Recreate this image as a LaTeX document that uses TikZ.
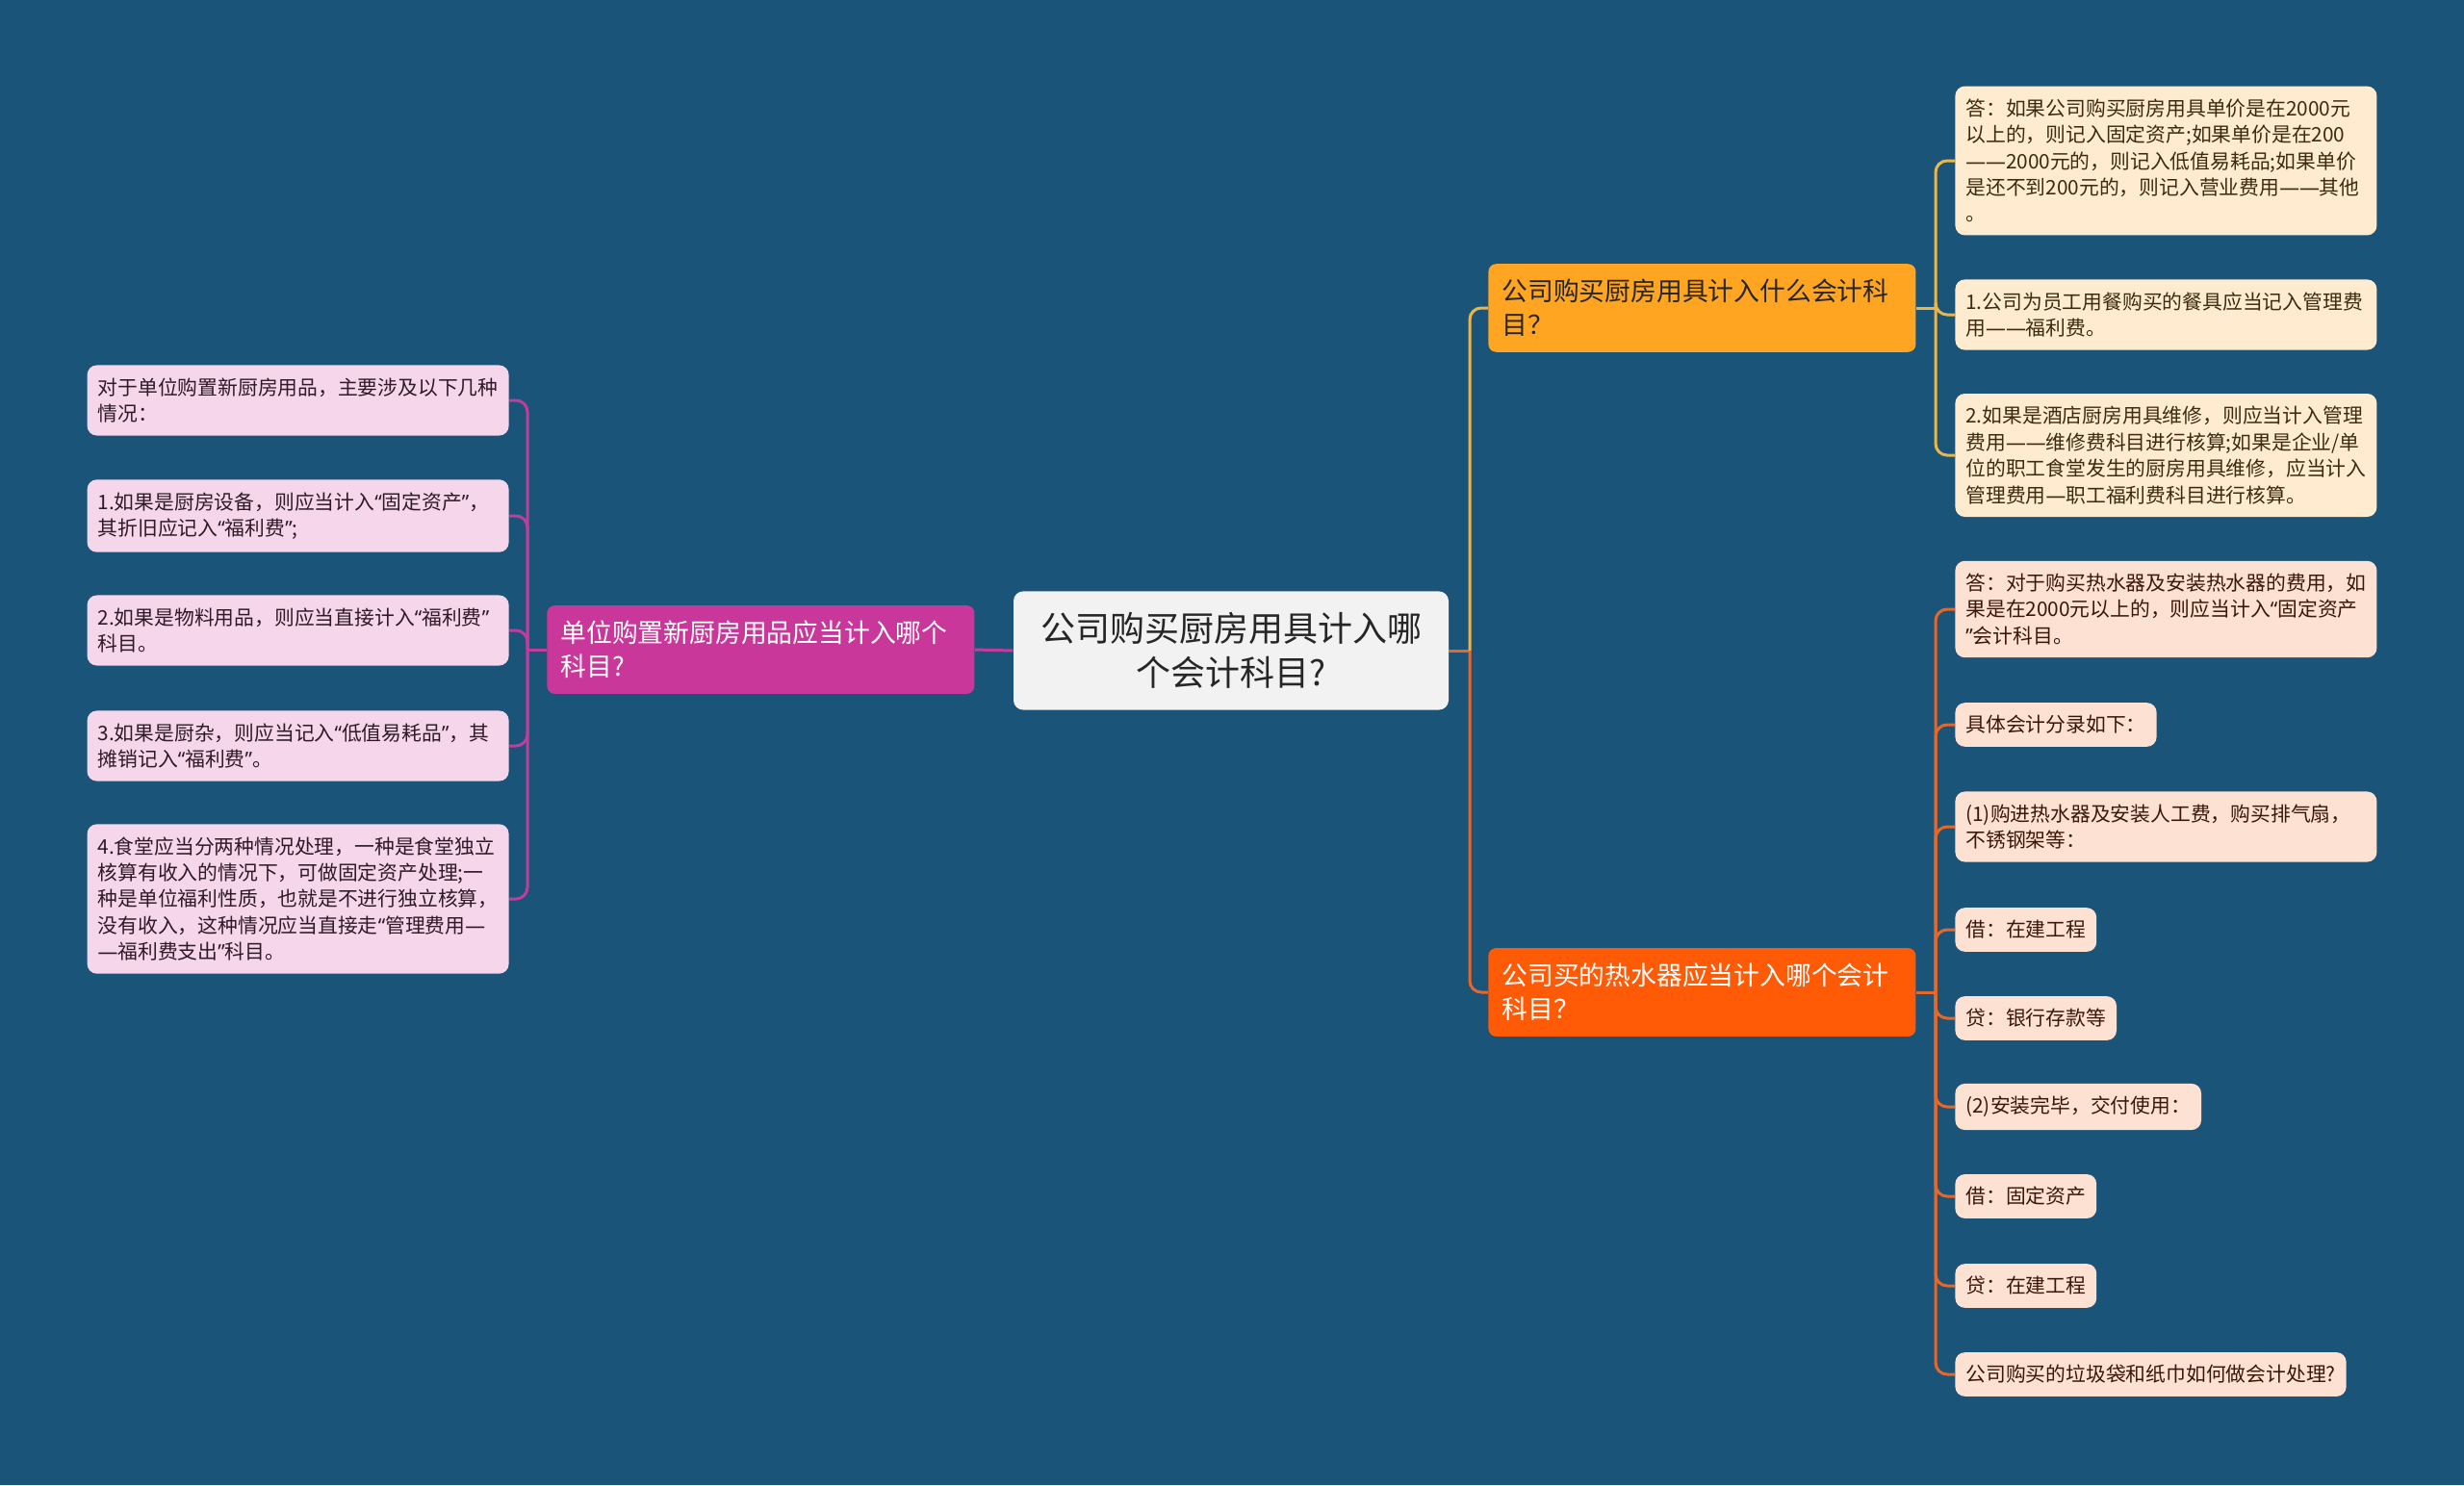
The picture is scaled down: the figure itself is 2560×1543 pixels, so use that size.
\documentclass[tikz,border=0pt]{standalone}
\usepackage{fontspec}
\setmainfont{Noto Sans CJK SC}
\newfontfamily\qtfont{Noto Sans}
\newcommand{\zhlq}{{\qtfont “}}
\newcommand{\zhrq}{{\qtfont ”}}
\newcommand{\zhdash}{{\qtfont —}}
\usepackage{xcolor}
\usepackage{tikz}
\usetikzlibrary{positioning}
\definecolor{bgblue}{HTML}{1A5479}
\definecolor{rootgray}{HTML}{F2F2F2}
\definecolor{magbranch}{HTML}{C9379A}
\definecolor{magline}{HTML}{C23C9C}
\definecolor{pinkleaf}{HTML}{F6D6EB}
\definecolor{pinktext}{HTML}{2E1A28}
\definecolor{goldbranch}{HTML}{FFA521}
\definecolor{goldline}{HTML}{E9B64B}
\definecolor{creamleaf}{HTML}{FEEBD0}
\definecolor{creamtext}{HTML}{3D2B10}
\definecolor{orgbranch}{HTML}{FF5A06}
\definecolor{orgline}{HTML}{E4672B}
\definecolor{peachleaf}{HTML}{FDE1D3}
\definecolor{peachtext}{HTML}{3A1808}
\tikzset{
    root/.style={fill=rootgray, rounded corners=5pt, align=center,
    font=\fontsize{18}{23}\selectfont, text=black!85, inner xsep=14pt, inner ysep=11pt},
    branch/.style={rounded corners=4pt, align=left, text width=208pt,
    font=\fontsize{13.4}{17.5}\selectfont, inner xsep=7pt, inner ysep=8pt},
    leaf/.style={rounded corners=5pt, align=left, anchor=west,
    font=\fontsize{10.4}{13.7}\selectfont, inner xsep=5.5pt, inner ysep=6.6pt},
    wide/.style={text width=208pt},
    conn/.style={line width=1.5pt, rounded corners=6pt},
}
\begin{document}
\begin{tikzpicture}[x=0.5pt, y=-0.5pt]
            \fill[bgblue] (0,0) rectangle (2560,1543);
            % --- centre ---
            \node[root] (root) at (1279,676) {公司购买厨房用具计入哪\\个会计科目?};
            % --- left branch ---
            \node[branch, fill=magbranch, text=white, anchor=west] (lb) at (568,675) {单位购置新厨房用品应当计入哪个\\科目?};
            \node[leaf, wide, fill=pinkleaf, text=pinktext, anchor=east] (l1) at (529,416) {对于单位购置新厨房用品，主要涉及以下几种\\情况：};
            \node[leaf, wide, fill=pinkleaf, text=pinktext, anchor=east] (l2) at (529,536) {1.如果是厨房设备，则应当计入\zhlq 固定资产\zhrq ，\\其折旧应记入\zhlq 福利费\zhrq ;};
            \node[leaf, wide, fill=pinkleaf, text=pinktext, anchor=east] (l3) at (529,655) {2.如果是物料用品，则应当直接计入\zhlq 福利费\zhrq \\科目。};
            \node[leaf, wide, fill=pinkleaf, text=pinktext, anchor=east] (l4) at (529,775) {3.如果是厨杂，则应当记入\zhlq 低值易耗品\zhrq ，其\\摊销记入\zhlq 福利费\zhrq 。};
            \node[leaf, wide, fill=pinkleaf, text=pinktext, anchor=east] (l5) at (529,934) {4.食堂应当分两种情况处理，一种是食堂独立\\核算有收入的情况下，可做固定资产处理;一\\种是单位福利性质，也就是不进行独立核算，\\没有收入，这种情况应当直接走\zhlq 管理费用\zhdash \\\zhdash 福利费支出\zhrq 科目。};
            \coordinate (ls) at (548,675);
            \draw[conn, magline] (root.west) -- (lb.east);
            \draw[conn, magline] (lb.west) -- (ls);
            \foreach \n in {l1,l2,l3,l4,l5}
                \draw[conn, magline] (ls) |- (\n.east);
            % --- right branches ---
            \node[branch, fill=goldbranch, text=black!85, anchor=west] (tb) at (1546,320) {公司购买厨房用具计入什么会计科\\目？};
            \node[branch, fill=orgbranch, text=white, anchor=west] (bb) at (1546,1031) {公司买的热水器应当计入哪个会计\\科目？};
            \coordinate (rs) at (1527,676);
            \draw[conn, orgline] (root.east) -- (rs);
            \draw[conn, goldline] (rs) |- (tb.west);
            \draw[conn, orgline] (rs) |- (bb.west);
            % --- top right leaves ---
            \node[leaf, wide, fill=creamleaf, text=creamtext] (t1) at (2031,167) {答：如果公司购买厨房用具单价是在2000元\\以上的，则记入固定资产;如果单价是在200\\\zhdash\zhdash 2000元的，则记入低值易耗品;如果单价\\是还不到200元的，则记入营业费用\zhdash\zhdash 其他\\。};
            \node[leaf, wide, fill=creamleaf, text=creamtext] (t2) at (2031,327) {1.公司为员工用餐购买的餐具应当记入管理费\\用\zhdash\zhdash 福利费。};
            \node[leaf, wide, fill=creamleaf, text=creamtext] (t3) at (2031,473) {2.如果是酒店厨房用具维修，则应当计入管理\\费用\zhdash\zhdash 维修费科目进行核算;如果是企业/单\\位的职工食堂发生的厨房用具维修，应当计入\\管理费用\zhdash 职工福利费科目进行核算。};
            \coordinate (ts) at (2011,320);
            \draw[conn, goldline] (tb.east) -- (ts);
            \foreach \n in {t1,t2,t3}
                \draw[conn, goldline] (ts) |- (\n.west);
            % --- bottom right leaves ---
            \node[leaf, wide, fill=peachleaf, text=peachtext] (b1) at (2031,633) {答：对于购买热水器及安装热水器的费用，如\\果是在2000元以上的，则应当计入\zhlq 固定资产\\\zhrq 会计科目。};
            \node[leaf, fill=peachleaf, text=peachtext] (b2) at (2031,753) {具体会计分录如下：};
            \node[leaf, wide, fill=peachleaf, text=peachtext] (b3) at (2031,859) {(1)购进热水器及安装人工费，购买排气扇，\\不锈钢架等：};
            \node[leaf, fill=peachleaf, text=peachtext] (b4) at (2031,966) {借：在建工程};
            \node[leaf, fill=peachleaf, text=peachtext] (b5) at (2031,1058) {贷：银行存款等};
            \node[leaf, fill=peachleaf, text=peachtext] (b6) at (2031,1150) {(2)安装完毕，交付使用：};
            \node[leaf, fill=peachleaf, text=peachtext] (b7) at (2031,1243) {借：固定资产};
            \node[leaf, fill=peachleaf, text=peachtext] (b8) at (2031,1336) {贷：在建工程};
            \node[leaf, fill=peachleaf, text=peachtext] (b9) at (2031,1428) {公司购买的垃圾袋和纸巾如何做会计处理?};
            \coordinate (bs) at (2011,1031);
            \draw[conn, orgline] (bb.east) -- (bs);
            \foreach \n in {b1,b2,b3,b4,b5,b6,b7,b8,b9}
                \draw[conn, orgline] (bs) |- (\n.west);
        \end{tikzpicture}
\end{document}
